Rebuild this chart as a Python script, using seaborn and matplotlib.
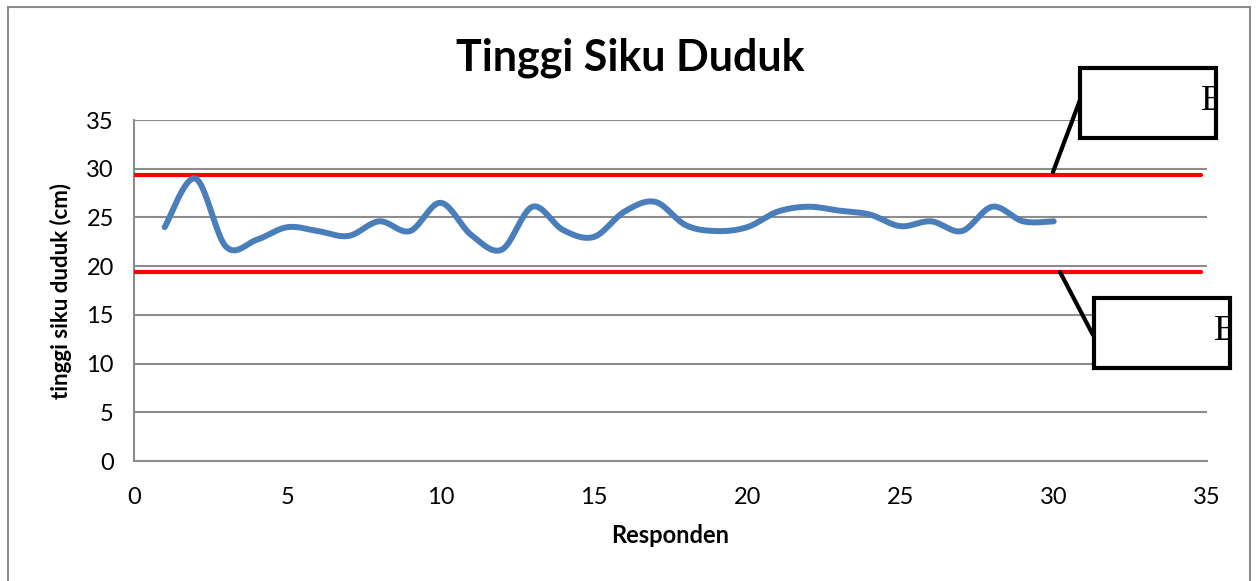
import numpy as np
import pandas as pd
import matplotlib.pyplot as plt
import seaborn as sns
from matplotlib.patches import Rectangle
from matplotlib.lines import Line2D

# data
responden = list(range(1, 31))
tinggi = [24.0, 29.0, 22.0, 22.7, 24.0, 23.6, 23.1, 24.6, 23.6, 26.5,
          23.2, 21.7, 26.1, 23.7, 23.0, 25.6, 26.6, 24.2, 23.6, 24.0,
          25.6, 26.1, 25.7, 25.3, 24.1, 24.6, 23.6, 26.1, 24.6, 24.6]
batas_x = [0, 34.8]
batas_atas = [29.4, 29.4]
batas_bawah = [19.4, 19.4]
label_box = ["E", "E"]


def smooth(x, y, n=20):
    # catmull-rom curve like the excel "smoothed line" option
    x = np.asarray(x, float)
    y = np.asarray(y, float)
    px = np.r_[x[0], x, x[-1]]
    py = np.r_[y[0], y, y[-1]]
    xs, ys = [], []
    t = np.linspace(0, 1, n, endpoint=False)
    for i in range(1, len(px) - 2):
        for p, out in ((px, xs), (py, ys)):
            p0, p1, p2, p3 = p[i - 1], p[i], p[i + 1], p[i + 2]
            out.extend(0.5 * (2 * p1 + (-p0 + p2) * t
                              + (2 * p0 - 5 * p1 + 4 * p2 - p3) * t ** 2
                              + (-p0 + 3 * p1 - 3 * p2 + p3) * t ** 3))
    xs.append(x[-1])
    ys.append(y[-1])
    return np.array(xs), np.array(ys)


sns.set_style("white")
plt.rcParams['font.family'] = ['Lato', 'DejaVu Sans']
plt.rcParams['text.color'] = 'black'
plt.rcParams['axes.labelcolor'] = 'black'
plt.rcParams['xtick.labelcolor'] = 'black'
plt.rcParams['ytick.labelcolor'] = 'black'

W, H = 1258, 581
fig = plt.figure(figsize=(W / 100, H / 100), dpi=100)
ax = fig.add_axes([134 / W, 1 - 461 / H, (1207 - 134) / W, (461 - 120) / H])

sx, sy = smooth(responden, tinggi)
df = pd.DataFrame({"x": sx, "y": sy})
sns.lineplot(data=df, x="x", y="y", sort=False, color="#4A7EBB", lw=4.3,
             ax=ax, zorder=4, solid_capstyle="round")
sns.lineplot(x=batas_x, y=batas_atas, color="#FF0000", lw=3, ax=ax, zorder=3)
sns.lineplot(x=batas_x, y=batas_bawah, color="#FF0000", lw=3, ax=ax, zorder=3)

ax.set_xlim(0, 35)
ax.set_ylim(0, 35)
ax.set_xticks(range(0, 36, 5))
ax.set_yticks(range(0, 36, 5))
ax.grid(axis="y", color="#8C8C8C", lw=1.5)
ax.grid(axis="x", visible=False)
for s in ["top", "right"]:
    ax.spines[s].set_visible(False)
for s in ["left", "bottom"]:
    ax.spines[s].set_color("#8C8C8C")
    ax.spines[s].set_linewidth(1.5)
ax.tick_params(axis="both", direction="inout", length=9, width=1.5,
               color="#8C8C8C", labelsize=17)
ax.tick_params(axis="y", pad=10)
ax.tick_params(axis="x", pad=14)
ax.set_xlabel("Responden", fontsize=17, fontweight="bold", labelpad=12)
ax.set_ylabel("tinggi siku duduk (cm)", fontsize=16, fontweight="bold",
              labelpad=10)
fig.text(630 / W, 1 - 58 / H, "Tinggi Siku Duduk", fontsize=31,
         fontweight="bold", ha="center", va="center")

# outer chart border
fig.patches.append(Rectangle((8 / W, -0.05), (1250 - 8) / W, 1 - 7 / H + 0.05,
                             transform=fig.transFigure, fill=False,
                             ec="#8C8C8C", lw=1.5))

# callout boxes
boxes = [((1080, 68, 1216, 138), ((1053, 172), (1080, 100)), (1212, 102)),
         ((1094, 298, 1230, 368), ((1060, 272), (1093, 335)), (1225, 331))]
for (l, t, r, b), (p1, p2), tp in boxes:
    rect = Rectangle((l / W, 1 - b / H), (r - l) / W, (b - t) / H,
                     transform=fig.transFigure, fc="white", ec="black",
                     lw=3, zorder=5)
    fig.patches.append(rect)
    fig.lines.append(Line2D([p1[0] / W, p2[0] / W], [1 - p1[1] / H, 1 - p2[1] / H],
                            transform=fig.transFigure, color="black", lw=3,
                            zorder=5))
for ((l, t, r, b), _, tp), lab in zip(boxes, label_box):
    txt = fig.text(tp[0] / W, 1 - tp[1] / H, lab, fontsize=26,
                   family="Liberation Serif", ha="center", va="center",
                   zorder=6)
    clip = Rectangle((l / W, 1 - b / H), (r - l - 2) / W, (b - t) / H,
                     transform=fig.transFigure)
    txt.set_clip_path(clip)

fig.savefig("out.png", dpi=100)
